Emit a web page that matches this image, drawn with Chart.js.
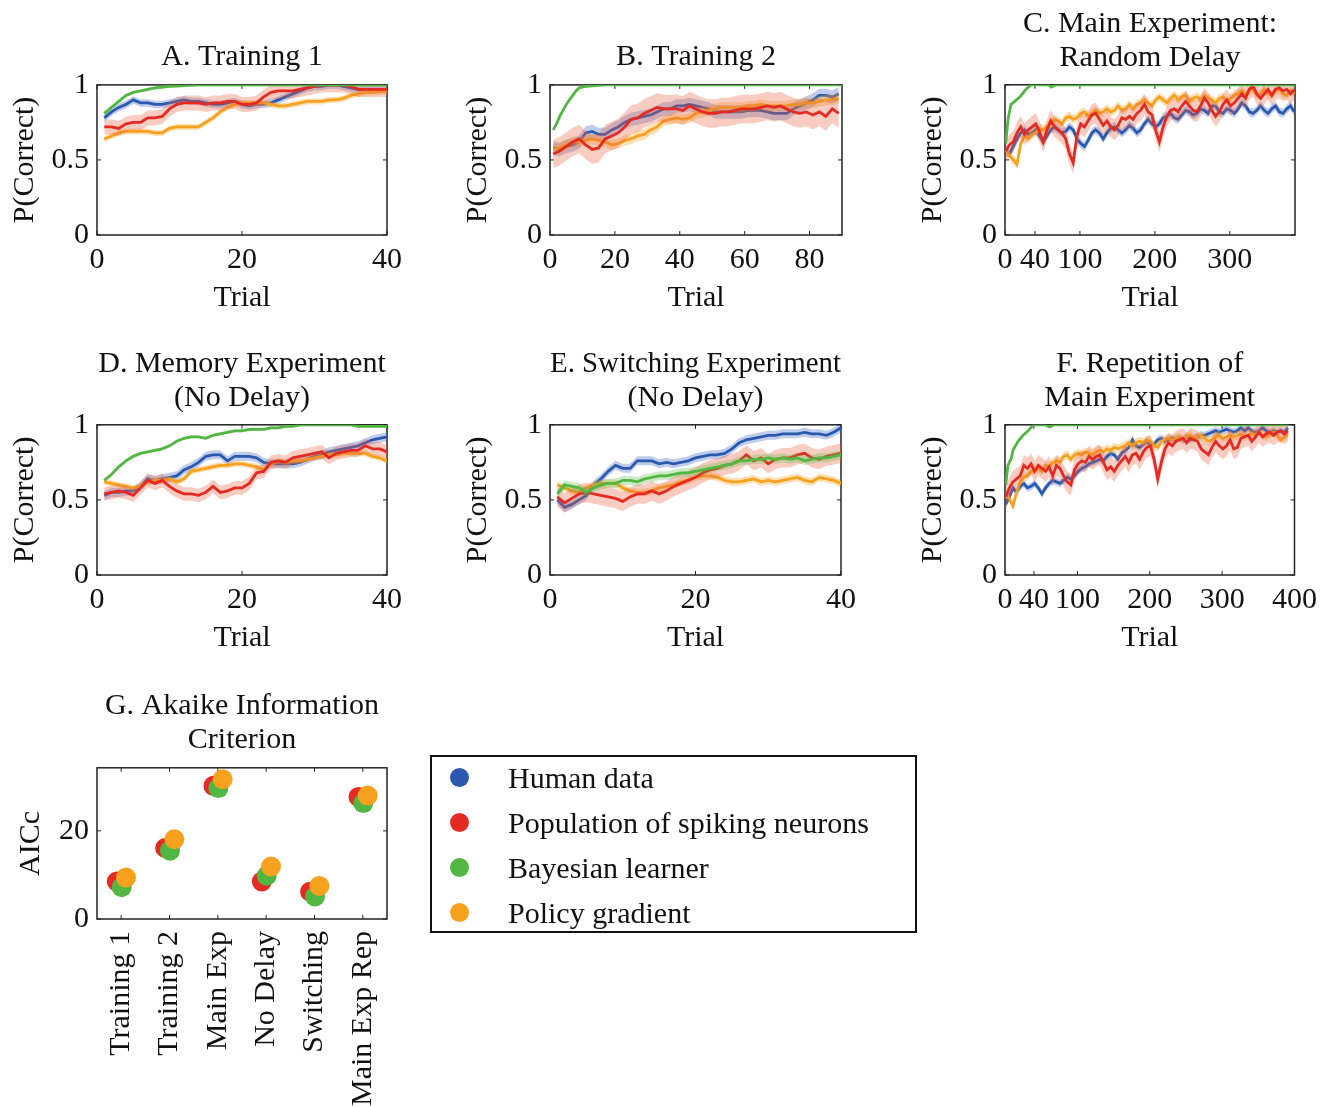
<!DOCTYPE html>
<html>
<head>
<meta charset="utf-8">
<script src="https://cdn.jsdelivr.net/npm/chart.js@4.4.1/dist/chart.umd.min.js"></script>
<style>
  body { margin: 0; background: #fff; }
  #wrap { position: relative; width: 1324px; height: 1107px; overflow: hidden; }
  canvas { position: absolute; }
  #legend { position: absolute; left: 430px; top: 755px; width: 487px; height: 178px;
    border: 2px solid #111; box-sizing: border-box; font: 30px "Liberation Serif"; color: #111; }
  .row { position: absolute; left: 0; height: 45px; line-height: 45px; white-space: nowrap; }
  .dot { position: absolute; left: 18px; top: 13px; width: 19px; height: 19px; border-radius: 50%; }
  .lab { position: absolute; left: 76px; top: 0; }
</style>
</head>
<body>
<div id="wrap">
  <canvas id="cA" width="440" height="320" style="left:0px;top:0px"></canvas>
  <canvas id="cB" width="440" height="320" style="left:453px;top:0px"></canvas>
  <canvas id="cC" width="416" height="320" style="left:908px;top:0px"></canvas>
  <canvas id="cD" width="440" height="320" style="left:0px;top:340px"></canvas>
  <canvas id="cE" width="440" height="320" style="left:453px;top:340px"></canvas>
  <canvas id="cF" width="416" height="320" style="left:908px;top:340px"></canvas>
  <canvas id="cG" width="440" height="427" style="left:0px;top:680px"></canvas>
  <div id="legend"></div>
</div>
<script>
// series order everywhere: human, spiking network, bayesian, policy gradient
const modelNames = ["Human data", "Population of spiking neurons", "Bayesian learner", "Policy gradient"];

function steps(a, b, d) { const r = []; for (let t = a; t <= b; t += d) r.push(t); return r; }

// A. Training 1
const trialsA = steps(1, 40, 1);
const humanA = [0.78,0.82,0.85,0.87,0.90,0.88,0.88,0.87,0.87,0.88,0.89,0.90,0.89,0.89,0.88,0.87,0.87,0.88,0.89,0.87,
  0.86,0.87,0.87,0.88,0.90,0.92,0.94,0.96,0.98,0.99,0.99,1.0,1.0,0.99,0.98,0.97,0.97,0.97,0.97,0.97];
const spikingA = [0.72,0.72,0.71,0.74,0.75,0.75,0.78,0.78,0.79,0.84,0.87,0.88,0.88,0.88,0.87,0.88,0.88,0.89,0.89,0.87,
  0.87,0.88,0.92,0.95,0.96,0.96,0.96,0.97,0.98,0.99,1.0,1.0,1.0,1.0,0.99,0.97,0.97,0.97,0.97,0.97];
const bayesTrialsA = [1,2,3,4,5,6,7,8,9,10,12,14,40];
const bayesA = [0.81,0.85,0.89,0.93,0.95,0.96,0.97,0.98,0.985,0.99,0.995,1.0,1.0];
const policyA = [0.64,0.66,0.68,0.69,0.69,0.69,0.69,0.68,0.68,0.71,0.72,0.72,0.72,0.72,0.75,0.78,0.82,0.85,0.87,0.88,
  0.88,0.88,0.88,0.87,0.86,0.86,0.87,0.88,0.89,0.89,0.89,0.90,0.90,0.91,0.93,0.94,0.95,0.95,0.955,0.96];
const semA = [0.025, 0.05, 0.01, 0.02];

// B. Training 2
const trialsB = steps(1, 89, 2);
const humanB = [0.58,0.57,0.59,0.60,0.62,0.68,0.69,0.67,0.67,0.70,0.72,0.75,0.77,0.78,0.79,0.80,0.82,0.84,0.84,0.86,
  0.86,0.87,0.86,0.85,0.84,0.82,0.82,0.82,0.82,0.82,0.83,0.83,0.83,0.82,0.81,0.81,0.81,0.84,0.86,0.88,
  0.90,0.93,0.93,0.92,0.94];
const spikingB = [0.54,0.56,0.59,0.62,0.64,0.60,0.57,0.58,0.64,0.66,0.68,0.72,0.77,0.78,0.81,0.83,0.85,0.84,0.84,0.84,
  0.83,0.86,0.84,0.82,0.81,0.81,0.82,0.82,0.83,0.84,0.84,0.84,0.85,0.86,0.85,0.86,0.84,0.82,0.81,0.82,
  0.80,0.82,0.79,0.84,0.81];
const bayesTrialsB = [1,2,3,4,5,6,7,8,9,11,14,17,90];
const bayesB = [0.70,0.74,0.79,0.83,0.87,0.90,0.93,0.96,0.98,0.99,0.995,1.0,1.0];
const policyB = [0.57,0.58,0.60,0.62,0.62,0.63,0.64,0.63,0.62,0.60,0.61,0.63,0.64,0.66,0.67,0.70,0.72,0.76,0.77,0.78,
  0.77,0.78,0.81,0.82,0.83,0.84,0.85,0.85,0.85,0.85,0.86,0.86,0.87,0.86,0.86,0.86,0.86,0.87,0.87,0.88,
  0.88,0.89,0.90,0.90,0.91];
const semB = [0.045, 0.095, 0.005, 0.035];

// C. Main experiment, random delay
const trialsC = steps(1, 386, 5);
const humanC = [0.56,0.54,0.59,0.64,0.68,0.70,0.67,0.68,0.70,0.66, 0.62,0.66,0.70,0.72,0.70,0.68,0.69,0.72,0.70,0.64,
  0.61,0.59,0.63,0.68,0.70,0.68,0.64,0.68,0.71,0.72, 0.70,0.68,0.70,0.73,0.71,0.68,0.70,0.74,0.77,0.74,
  0.72,0.74,0.78,0.79,0.81,0.78,0.77,0.80,0.83,0.82, 0.80,0.81,0.84,0.83,0.81,0.86,0.86,0.82,0.81,0.84,
  0.83,0.81,0.84,0.88,0.86,0.82,0.81,0.83,0.86,0.83, 0.81,0.84,0.86,0.82,0.81,0.84,0.86,0.82];
const spikingC = [0.56,0.60,0.62,0.68,0.72,0.67,0.70,0.72,0.74,0.69, 0.62,0.70,0.76,0.72,0.70,0.68,0.64,0.54,0.48,0.66,
  0.74,0.72,0.76,0.80,0.81,0.77,0.73,0.76,0.72,0.70, 0.73,0.78,0.77,0.79,0.77,0.81,0.83,0.87,0.82,0.80,
  0.70,0.62,0.72,0.79,0.83,0.84,0.82,0.86,0.89,0.86, 0.83,0.82,0.86,0.91,0.88,0.83,0.79,0.82,0.87,0.90,
  0.86,0.88,0.91,0.94,0.91,0.97,0.99,0.94,0.91,0.94, 0.97,0.93,0.97,0.98,0.96,0.97,0.94,0.97];
const bayesTrialsC = [1,4,8,13,20,28,35,58,62,68,387];
const bayesC = [0.61,0.77,0.87,0.89,0.92,0.97,1.0,1.0,0.985,1.0,1.0];
const policyC = [0.57,0.53,0.50,0.47,0.61,0.66,0.64,0.67,0.68,0.71, 0.70,0.72,0.74,0.77,0.76,0.74,0.78,0.79,0.77,0.78,
  0.81,0.82,0.79,0.81,0.83,0.81,0.82,0.84,0.82,0.83, 0.86,0.83,0.84,0.87,0.84,0.87,0.88,0.90,0.88,0.86,
  0.90,0.92,0.90,0.88,0.91,0.93,0.90,0.92,0.93,0.89, 0.91,0.92,0.90,0.93,0.91,0.90,0.88,0.91,0.92,0.89,
  0.91,0.93,0.94,0.96,0.93,0.96,0.97,0.93,0.94,0.97, 0.94,0.93,0.96,0.97,0.94,0.93,0.96,0.94];
const semC = [0.03, 0.07, 0.005, 0.03];

// D. Memory experiment, no delay
const trialsD = steps(1, 40, 1);
const humanD = [0.53,0.55,0.55,0.56,0.56,0.59,0.64,0.63,0.64,0.65,0.66,0.70,0.72,0.75,0.79,0.80,0.80,0.76,0.79,0.79,
  0.79,0.78,0.75,0.74,0.74,0.74,0.74,0.75,0.77,0.79,0.80,0.82,0.83,0.84,0.85,0.86,0.88,0.90,0.91,0.92];
const spikingD = [0.54,0.55,0.56,0.55,0.53,0.58,0.63,0.61,0.63,0.59,0.56,0.54,0.54,0.53,0.55,0.59,0.55,0.56,0.58,0.58,
  0.61,0.68,0.69,0.75,0.76,0.75,0.78,0.79,0.80,0.81,0.82,0.78,0.81,0.82,0.83,0.83,0.86,0.84,0.84,0.82];
const bayesTrialsD = trialsD;
const bayesD = [0.63,0.67,0.72,0.76,0.79,0.81,0.82,0.83,0.84,0.86,0.89,0.91,0.92,0.92,0.91,0.93,0.94,0.95,0.96,0.96,
  0.97,0.97,0.97,0.98,0.98,0.99,0.99,1.0,1.0,1.0,1.0,1.0,1.0,1.0,1.0,0.99,0.99,0.99,0.99,0.99];
const policyD = [0.62,0.61,0.60,0.59,0.58,0.59,0.62,0.63,0.63,0.64,0.62,0.64,0.69,0.70,0.71,0.72,0.73,0.73,0.74,0.74,
  0.73,0.72,0.70,0.74,0.76,0.75,0.76,0.76,0.77,0.78,0.79,0.80,0.80,0.81,0.81,0.81,0.81,0.79,0.78,0.76];
const semD = [0.03, 0.045, 0.01, 0.02];

// E. Switching experiment, no delay
const trialsE = steps(1, 40, 1);
const humanE = [0.50,0.45,0.47,0.50,0.53,0.60,0.64,0.69,0.73,0.71,0.71,0.76,0.76,0.76,0.74,0.75,0.74,0.75,0.76,0.78,
  0.79,0.80,0.80,0.81,0.84,0.88,0.90,0.91,0.92,0.93,0.93,0.94,0.94,0.94,0.95,0.94,0.94,0.93,0.95,0.98];
const spikingE = [0.52,0.48,0.51,0.54,0.55,0.54,0.53,0.52,0.51,0.49,0.52,0.54,0.54,0.56,0.54,0.56,0.59,0.61,0.63,0.65,
  0.68,0.70,0.71,0.73,0.74,0.76,0.80,0.76,0.78,0.74,0.77,0.78,0.78,0.80,0.81,0.78,0.77,0.79,0.80,0.81];
const bayesTrialsE = trialsE;
const bayesE = [0.54,0.60,0.59,0.58,0.55,0.58,0.60,0.61,0.61,0.63,0.63,0.62,0.64,0.65,0.66,0.66,0.67,0.68,0.68,0.69,
  0.70,0.71,0.72,0.73,0.74,0.76,0.76,0.77,0.77,0.78,0.77,0.78,0.77,0.78,0.76,0.77,0.78,0.78,0.79,0.80];
const policyE = [0.60,0.58,0.56,0.55,0.58,0.60,0.61,0.61,0.61,0.58,0.56,0.55,0.55,0.56,0.58,0.59,0.60,0.62,0.63,0.65,
  0.66,0.66,0.65,0.63,0.62,0.62,0.63,0.64,0.62,0.63,0.62,0.63,0.64,0.65,0.63,0.62,0.65,0.64,0.63,0.61];
const semE = [0.03, 0.065, 0.03, 0.025];

// F. Repetition of main experiment
const trialsF = steps(1, 391, 5);
const humanF = [0.47,0.52,0.58,0.55,0.59,0.61,0.58,0.59,0.61,0.58, 0.54,0.58,0.61,0.63,0.62,0.61,0.63,0.65,0.64,0.66,
  0.69,0.71,0.72,0.74,0.75,0.76,0.77,0.76,0.79,0.81, 0.80,0.77,0.81,0.83,0.85,0.90,0.86,0.85,0.87,0.89,
  0.86,0.87,0.90,0.91,0.89,0.90,0.91,0.90,0.91,0.90, 0.92,0.90,0.91,0.92,0.93,0.93,0.94,0.95,0.96,0.95,
  0.96,0.97,0.96,0.95,0.96,0.98,0.96,0.98,0.96,0.95, 0.96,0.98,0.96,0.95,0.96,0.95,0.96,0.95,0.98];
const spikingF = [0.52,0.58,0.62,0.64,0.66,0.73,0.71,0.74,0.69,0.73, 0.71,0.69,0.72,0.66,0.73,0.71,0.66,0.62,0.60,0.70,
  0.74,0.76,0.75,0.79,0.77,0.79,0.80,0.75,0.70,0.72, 0.69,0.73,0.76,0.79,0.75,0.80,0.81,0.77,0.82,0.85,
  0.86,0.77,0.64,0.75,0.84,0.88,0.86,0.89,0.90,0.91, 0.88,0.91,0.90,0.89,0.84,0.82,0.80,0.85,0.89,0.86,
  0.84,0.86,0.90,0.84,0.85,0.91,0.92,0.93,0.89,0.92, 0.95,0.92,0.94,0.95,0.93,0.95,0.96,0.94,0.96];
const bayesTrialsF = [1,4,9,11,18,25,32,39,55,62,68,391];
const bayesF = [0.60,0.73,0.78,0.83,0.89,0.93,0.96,1.0,1.0,0.985,1.0,1.0];
const policyF = [0.54,0.51,0.46,0.55,0.62,0.65,0.66,0.69,0.70,0.71, 0.69,0.73,0.72,0.75,0.76,0.75,0.79,0.80,0.77,0.80,
  0.81,0.80,0.82,0.81,0.80,0.82,0.83,0.82,0.84,0.83, 0.85,0.84,0.85,0.86,0.88,0.86,0.88,0.89,0.88,0.90,
  0.89,0.86,0.85,0.89,0.90,0.91,0.90,0.91,0.92,0.90, 0.92,0.93,0.91,0.92,0.93,0.91,0.89,0.90,0.92,0.93,
  0.91,0.92,0.93,0.92,0.93,0.94,0.92,0.93,0.94,0.93, 0.95,0.93,0.92,0.94,0.95,0.93,0.90,0.92,0.94];
const semF = [0.025, 0.07, 0.005, 0.03];

// G. AICc per experiment (spiking, bayesian, policy gradient)
const categoriesG = ["Training 1", "Training 2", "Main Exp", "No Delay", "Switching", "Main Exp Rep"];
const aicSpiking = [8.5, 16.1, 30.2, 8.5, 6.2, 27.7];
const aicBayes = [7.2, 15.5, 29.7, 9.8, 5.1, 26.3];
const aicPolicy = [9.4, 18.1, 31.7, 11.9, 7.5, 28.0];

// styles
const lineColors = ["#2b59ad", "#e42a22", "#52b642", "#f6a21f"];
const bandColors = ["rgba(55,95,195,0.32)", "rgba(235,95,65,0.32)", "rgba(90,185,70,0.30)", "rgba(245,165,35,0.34)"];
const paintOrder = [0, 3, 1, 2];   // human, policy, spiking, bayesian on top
const FONT = "Liberation Serif";
const INK = "#111";

Chart.defaults.font.family = FONT;
Chart.defaults.color = INK;

const framePlugin = {
  id: "frame",
  beforeDatasetsDraw(chart) {
    const { ctx, chartArea: a } = chart;
    const xs = chart.scales.x, ys = chart.scales.y;
    ctx.save();
    ctx.strokeStyle = "#222";
    ctx.lineWidth = 1.5;
    ctx.strokeRect(a.left, a.top, a.right - a.left, a.bottom - a.top);
    ctx.lineWidth = 1;
    ctx.beginPath();
    xs.ticks.forEach(t => {
      const p = xs.getPixelForValue(t.value);
      ctx.moveTo(p, a.bottom); ctx.lineTo(p, a.bottom - 4);
      ctx.moveTo(p, a.top); ctx.lineTo(p, a.top + 4);
    });
    ys.ticks.forEach(t => {
      const p = ys.getPixelForValue(t.value);
      ctx.moveTo(a.left, p); ctx.lineTo(a.left + 4, p);
      ctx.moveTo(a.right, p); ctx.lineTo(a.right - 4, p);
    });
    ctx.stroke();
    ctx.restore();
  }
};

function titleOpts(text, pad) {
  return {
    display: true, text: text, color: INK, fullSize: false,
    font: { family: FONT, size: 30, weight: "normal", lineHeight: 1.13 },
    padding: pad
  };
}

function linePanel(id, title, titlePad, trials, means, bayesTrials, sem, xMax, xTicks, padRight) {
  const datasets = [];
  paintOrder.forEach(k => {
    const xs = k === 2 ? bayesTrials : trials;
    const ys = means[k];
    const pts = off => xs.map((x, i) => ({ x: x, y: ys[i] + off }));
    datasets.push({ data: pts(sem[k]), borderColor: "transparent", borderWidth: 0, pointRadius: 0, fill: false });
    datasets.push({ data: pts(-sem[k]), borderColor: "transparent", borderWidth: 0, pointRadius: 0,
      fill: "-1", backgroundColor: bandColors[k] });
    datasets.push({ label: modelNames[k], data: pts(0), borderColor: lineColors[k], borderWidth: 2.8,
      pointRadius: 0, tension: 0, fill: false });
  });
  datasets.forEach((d, i) => { d.order = datasets.length - i; });

  new Chart(document.getElementById(id), {
    type: "line",
    data: { datasets: datasets },
    options: {
      responsive: false, animation: false, devicePixelRatio: 1,
      layout: { padding: { left: 0, right: padRight, top: 0, bottom: 0 } },
      plugins: { legend: { display: false }, tooltip: { enabled: false }, title: titleOpts(title, titlePad) },
      scales: {
        x: {
          type: "linear", min: 0, max: xMax,
          border: { display: false }, grid: { display: false, drawTicks: false },
          ticks: { font: { size: 30 }, color: INK, padding: 7, maxRotation: 0, autoSkip: false },
          afterBuildTicks: s => { s.ticks = xTicks.map(v => ({ value: v })); },
          afterFit: s => { s.height = 85; },
          title: { display: true, text: "Trial", color: INK, font: { size: 30 }, padding: { top: 0, bottom: 4 } }
        },
        y: {
          min: 0, max: 1,
          border: { display: false }, grid: { display: false, drawTicks: false },
          ticks: { stepSize: 0.5, font: { size: 30 }, color: INK, padding: 8, callback: v => String(v) },
          afterFit: s => { s.width = 97; },
          title: { display: true, text: "P(Correct)", color: INK, font: { size: 30 }, padding: { top: 7, bottom: 0 } }
        }
      }
    },
    plugins: [framePlugin]
  });
}

const pad1 = { top: 40, bottom: 11 };
const pad2 = { top: 7, bottom: 10 };

linePanel("cA", "A. Training 1", pad1, trialsA, [humanA, spikingA, bayesA, policyA], bayesTrialsA, semA, 40, [0, 20, 40], 53);
linePanel("cB", "B. Training 2", pad1, trialsB, [humanB, spikingB, bayesB, policyB], bayesTrialsB, semB, 90, [0, 20, 40, 60, 80], 51);
linePanel("cC", ["C. Main Experiment:", "Random Delay"], pad2, trialsC, [humanC, spikingC, bayesC, policyC], bayesTrialsC, semC, 387, [0, 40, 100, 200, 300], 29);
linePanel("cD", ["D. Memory Experiment", "(No Delay)"], pad2, trialsD, [humanD, spikingD, bayesD, policyD], bayesTrialsD, semD, 40, [0, 20, 40], 53);
linePanel("cE", ["E. Switching Experiment", "(No Delay)"], pad2, trialsE, [humanE, spikingE, bayesE, policyE], bayesTrialsE, semE, 40, [0, 20, 40], 52);
linePanel("cF", ["F. Repetition of", "Main Experiment"], pad2, trialsF, [humanF, spikingF, bayesF, policyF], bayesTrialsF, semF, 400, [0, 40, 100, 200, 300, 400], 29);

// G. scatter of AICc, each model nudged sideways a little
const jitter = [0, -0.09, 0.01, 0.10];
const aic = [null, aicSpiking, aicBayes, aicPolicy];
const gSets = [1, 2, 3].map(k => ({
  label: modelNames[k],
  data: aic[k].map((v, i) => ({ x: i + 1 + jitter[k], y: v })),
  backgroundColor: lineColors[k], borderWidth: 0, pointRadius: 10, pointHoverRadius: 10,
  order: 4 - k
}));

new Chart(document.getElementById("cG"), {
  type: "scatter",
  data: { datasets: gSets },
  options: {
    responsive: false, animation: false, devicePixelRatio: 1,
    layout: { padding: { left: 0, right: 53, top: 0, bottom: 0 } },
    plugins: { legend: { display: false }, tooltip: { enabled: false },
      title: titleOpts(["G. Akaike Information", "Criterion"], { top: 9, bottom: 11 }) },
    scales: {
      x: {
        type: "linear", min: 0.5, max: 6.5,
        border: { display: false }, grid: { display: false, drawTicks: false },
        ticks: { font: { size: 30 }, color: INK, padding: 12, minRotation: 90, maxRotation: 90, autoSkip: false,
          callback: (v, i) => categoriesG[i] },
        afterBuildTicks: s => { s.ticks = categoriesG.map((c, i) => ({ value: i + 1 })); },
        afterFit: s => { s.height = 188; }
      },
      y: {
        min: 0, max: 34.3,
        border: { display: false }, grid: { display: false, drawTicks: false },
        ticks: { stepSize: 20, includeBounds: false, font: { size: 30 }, color: INK, padding: 8 },
        afterFit: s => { s.width = 97; },
        title: { display: true, text: "AICc", color: INK, font: { size: 30 }, padding: { top: 13, bottom: 0 } }
      }
    }
  },
  plugins: [framePlugin]
});

// legend box
const legend = document.getElementById("legend");
modelNames.forEach((name, k) => {
  const row = document.createElement("div");
  row.className = "row";
  row.style.top = (k * 45 - 2) + "px";
  row.innerHTML = '<span class="dot" style="background:' + lineColors[k] + '"></span><span class="lab">' + name + '</span>';
  legend.appendChild(row);
});
</script>
</body>
</html>
